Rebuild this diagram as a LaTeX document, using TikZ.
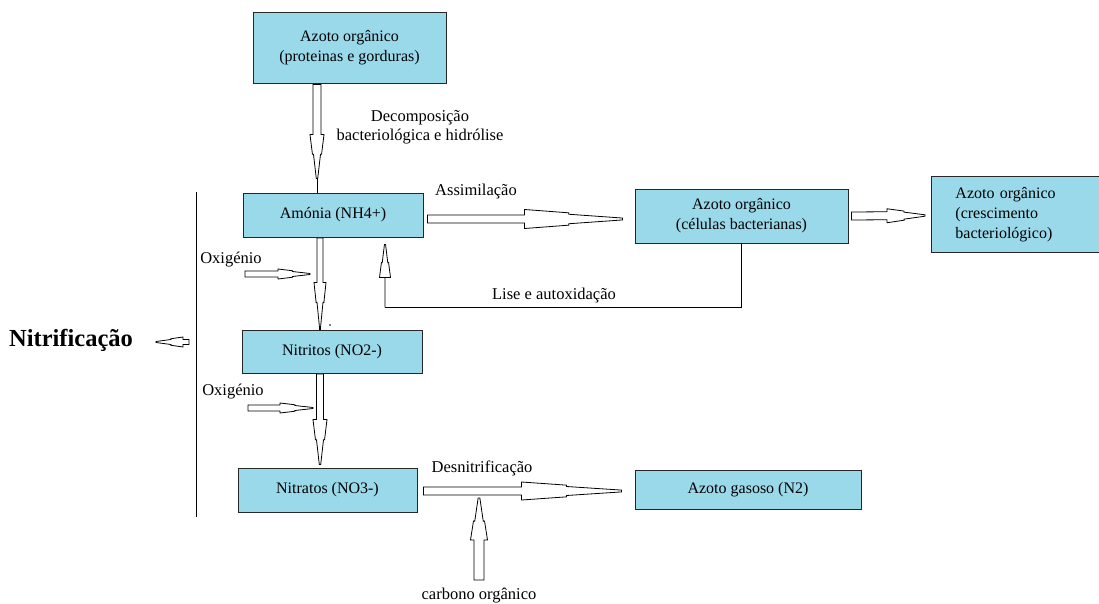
\documentclass[tikz,border=0pt]{standalone}
\usepackage{fontspec}
\setmainfont{Liberation Serif}
\usetikzlibrary{calc}
\definecolor{boxblue}{HTML}{99D9EA}
\newcommand\barrow[5]{% start, end, shaft half width, head half width, head length
  \draw[arrowline] let \p1=(#1), \p2=(#2),
    \n1={atan2(\y2-\y1,\x2-\x1)}, \n2={veclen(\x2-\x1,\y2-\y1)},
    \n3={\n2-#5}, \n4={\n2-0.55*#5} in
    {[shift={(\p1)}, rotate=\n1]
    (0,#3) -- (\n3,#3) -- (\n3,#4) -- (\n4,0.65*#4) -- (\n4,0.5*#4) -- (\n2,0.1*#4)
    -- (\n2,-0.1*#4) -- (\n4,-0.5*#4) -- (\n4,-0.65*#4) -- (\n3,-#4) -- (\n3,-#3) -- (0,-#3) -- cycle};
}
\begin{document}
\begin{tikzpicture}[x=1pt,y=-1pt,
  box/.style={draw=black!85, fill=boxblue, line width=0.9pt, inner sep=0pt, align=center,
    font=\fontsize{16}{20}\selectfont},
  lbl/.style={inner sep=0pt, font=\fontsize{16.5}{19}\selectfont},
  arrowline/.style={draw=black, fill=white, line width=0.8pt, line join=miter},
  thinline/.style={draw=black, line width=0.9pt}]
\useasboundingbox (0,0) rectangle (1099,604);
\fill[white] (0,0) rectangle (1099,604);

% boxes
\node[box, minimum width=193, minimum height=71] (top) at (349.5,47.5) {Azoto orgânico\\(proteinas e gorduras)};
\node[box, minimum width=180, minimum height=44] (amonia) at (333,215) {Amónia (NH4+)};
\node[box, minimum width=213, minimum height=54] (celulas) at (741.5,216) {Azoto orgânico\\(células bacterianas)};
\node[box, anchor=west, minimum height=76, text width=140, align=left, inner xsep=24] (cresc) at (931,214.5) {Azoto orgânico\\(crescimento\\bacteriológico)};
\node[box, minimum width=180, minimum height=43] (nitritos) at (332,351.5) {Nitritos (NO2-)};
\node[box, minimum width=179, minimum height=44] (nitratos) at (327.5,490) {Nitratos (NO3-)};
\node[box, minimum width=226, minimum height=39] (gasoso) at (748,489.5) {Azoto gasoso (N2)};

% labels
\node[lbl, align=center] (decomp) at (420,127.5) {Decomposição\\bacteriológica e hidrólise};
\node[lbl] (assim) at (476,192) {Assimilação};
\node[lbl] (oxi1) at (231,260) {Oxigénio};
\node[lbl] (oxi2) at (233,392) {Oxigénio};
\node[lbl] (lise) at (554,296) {Lise e autoxidação};
\node[lbl] (desn) at (482,468) {Desnitrificação};
\node[lbl] (carb) at (479,596) {carbono orgânico};
\node[inner sep=0pt, font=\fontsize{24.5}{28}\bfseries\selectfont] (nitrif) at (71,340) {Nitrificação};

% coordinates for free ends
\coordinate (o1s) at (245,274);
\coordinate (o1e) at (310,274);
\coordinate (o2s) at (248,408);
\coordinate (o2e) at (313,408);
\coordinate (cs) at (479,580);
\coordinate (ce) at (479,498);
\coordinate (ns) at (189,342);
\coordinate (ne) at (156,342);
\coordinate (lcorner) at ($(amonia.south)+(52,70)$);
\coordinate (lend) at ($(amonia.south)+(52,7)$);
\coordinate (dtip) at ($(amonia.north)+(-16,-14)$);

% bracket line
\draw[thinline] (196,192) -- (196,517);

% arrows
\barrow{$(top.south)+(-32.5,1)$}{dtip}{4}{7}{44}
\draw[thinline] (dtip) -- ($(amonia.north)+(-16,0)$);
\barrow{$(amonia.south)+(-13,0.5)$}{$(nitritos.north)+(-12,-3)$}{3}{6}{44}
\draw[line width=1.4pt] ($(nitritos.north)+(-12,-4)$) -- (nitritos.north -| 320,0);
\barrow{o1s}{o1e}{3}{5}{32}
\barrow{$(nitritos.south)+(-12,0.5)$}{$(nitratos.north)+(-7.5,-3)$}{3.5}{7}{45}
\barrow{o2s}{o2e}{3}{5}{33}
\barrow{$(amonia.east)+(4,4)$}{$(celulas.west)+(-12,3)$}{4}{9.5}{98}
\barrow{$(celulas.east)+(3,0)$}{$(cresc.west)+(-6,1)$}{4}{7}{38}
\draw[thinline] (celulas.south) |- (lcorner);
\barrow{lcorner}{lend}{0}{5.5}{33}
\barrow{$(nitratos.east)+(6,1)$}{$(gasoso.west)+(-13,1.5)$}{4}{9}{100}
\barrow{cs}{ce}{5}{8.5}{42}
\barrow{ns}{ne}{2.5}{5}{27}
\fill (330,325) circle (0.8);
\end{tikzpicture}
\end{document}
